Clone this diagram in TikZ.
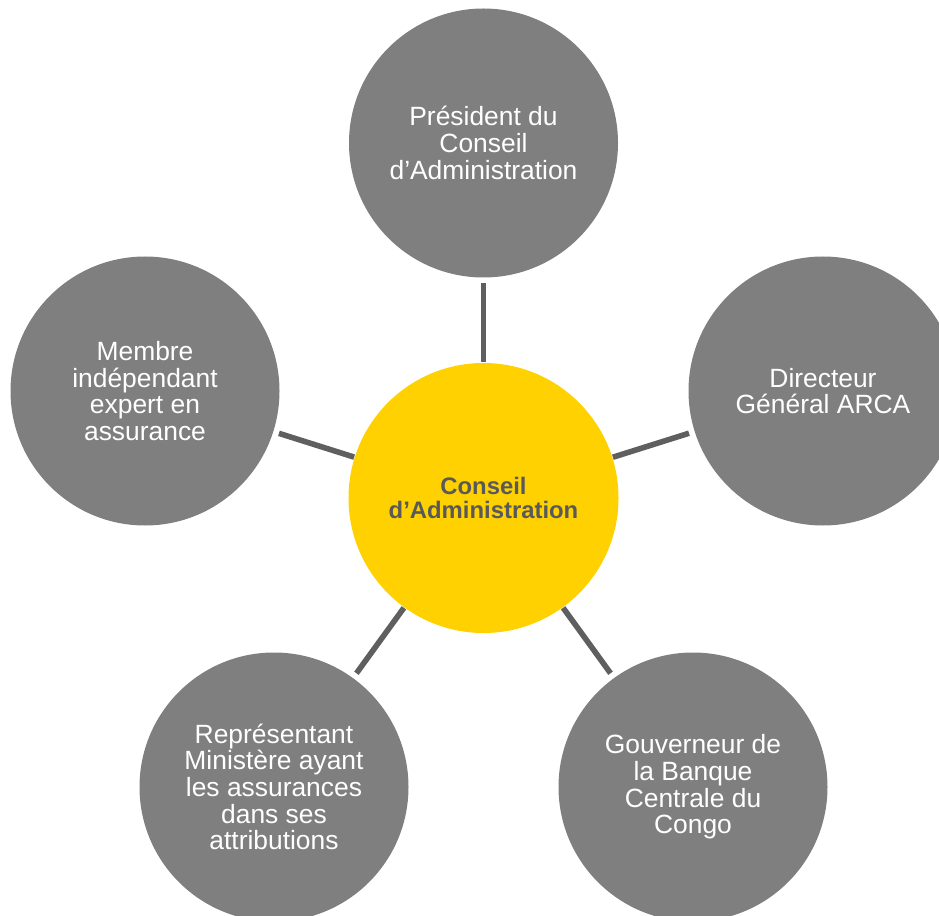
\documentclass[tikz,border=0pt]{standalone}
\usepackage{fontspec}
\setmainfont{Liberation Sans}
\definecolor{satgray}{HTML}{7F7F7F}
\definecolor{coreyellow}{HTML}{FFD100}
\definecolor{linegray}{HTML}{5F5F5F}
\definecolor{coretext}{HTML}{595959}
\begin{document}
\begin{tikzpicture}[x=0.75pt,y=-0.75pt,
  sat/.style={circle,fill=satgray,draw=none,minimum size=201.75pt,inner sep=0pt,outer sep=0pt,
    text=white,align=center,font=\fontsize{19.8}{20}\selectfont},
  core/.style={circle,fill=coreyellow,draw=none,minimum size=202.5pt,inner sep=0pt,outer sep=0pt,
    text=coretext,align=center,font=\fontsize{17.9}{17.5}\selectfont\bfseries},
  conn/.style={draw=linegray,line width=4.2pt,shorten <=4.5pt,shorten >=0.5pt}]
\useasboundingbox (0,0) rectangle (939,916);
\node[core] (c) at (483.5,498) {Conseil\\d’Administration};
\node[sat] (s1) at (483.5,143) {Président du\\Conseil\\d’Administration};
\node[sat] (s2) at (823,391) {Directeur\\Général ARCA};
\node[sat] (s3) at (693,787) {Gouverneur de\\la Banque\\Centrale du\\Congo};
\node[sat] (s4) at (274,787) {Représentant\\Ministère ayant\\les assurances\\dans ses\\attributions};
\node[sat] (s5) at (145,391) {Membre\\indépendant\\expert en\\assurance};
\draw[conn] (s1) -- (c);
\draw[conn] (s2) -- (c);
\draw[conn] (s3) -- (c);
\draw[conn] (s4) -- (c);
\draw[conn] (s5) -- (c);
\end{tikzpicture}
\end{document}
